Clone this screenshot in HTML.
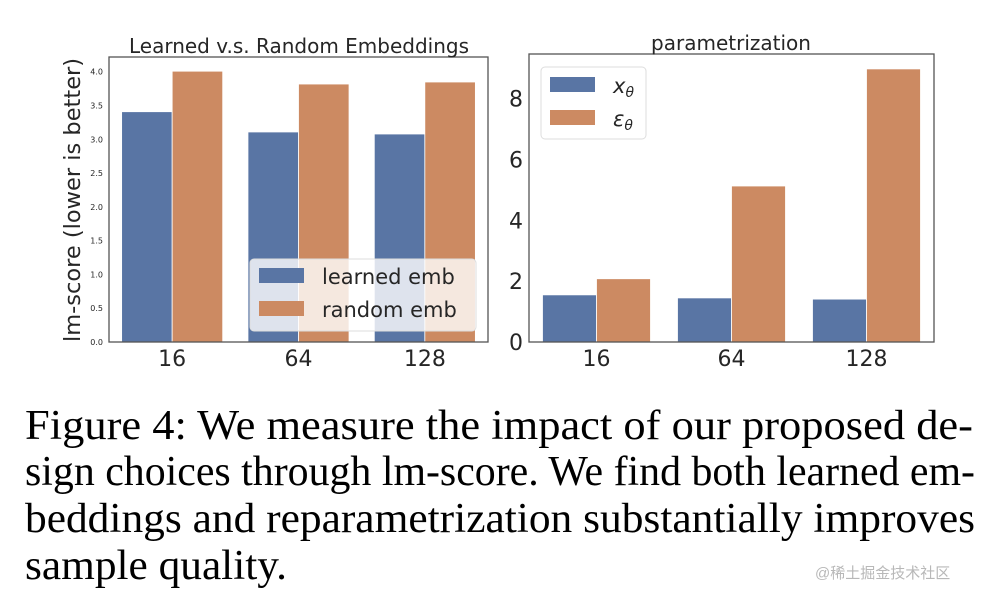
<!DOCTYPE html>
<html><head><meta charset="utf-8"><style>
html,body{margin:0;padding:0;background:#fff;width:998px;height:600px;overflow:hidden}
svg{display:block}
.sans{font-family:"DejaVu Sans","Liberation Sans",sans-serif;fill:#262626}
.serif{font-family:"Liberation Serif",serif;fill:#000}
</style></head><body>
<svg id="fig" width="998" height="600" xmlns="http://www.w3.org/2000/svg">
<g id="left"></g>
<g id="right"></g>
<g>
<text class="serif" x="25" y="439" font-size="42" textLength="948" lengthAdjust="spacingAndGlyphs">Figure 4:  We measure the impact of our proposed de-</text>
<text class="serif" x="25" y="485" font-size="42" textLength="950" lengthAdjust="spacingAndGlyphs">sign choices through lm-score. We find both learned em-</text>
<text class="serif" x="25" y="532" font-size="42" textLength="950" lengthAdjust="spacingAndGlyphs">beddings and reparametrization substantially improves</text>
<text class="serif" x="25" y="579" font-size="42" textLength="262" lengthAdjust="spacingAndGlyphs">sample quality.</text>
</g>
<text x="815" y="578" font-size="15" fill="#b8b8b8" font-family="'Liberation Sans','Noto Sans CJK SC',sans-serif">@稀土掘金技术社区</text>
</svg>
<script>
const categories = ["16","64","128"];
const learnedEmb = [3.41, 3.11, 3.08];
const randomEmb = [4.01, 3.82, 3.85];
const leftTicks = [0.0,0.5,1.0,1.5,2.0,2.5,3.0,3.5,4.0];
const xTheta = [1.55, 1.45, 1.41];
const epsTheta = [2.08, 5.13, 8.98];
const rightTicks = [0,2,4,6,8];

const NS="http://www.w3.org/2000/svg";
const BLUE="#5975a4", ORANGE="#cc8a62";
function mk(parent,tag,attrs,text){const e=document.createElementNS(NS,tag);for(const k in attrs)e.setAttribute(k,attrs[k]);if(text!==undefined)e.textContent=text;parent.appendChild(e);return e;}

function chart(g,cfg){
  const {x0,x1,y0,y1,ymax,series,colors,names,ticks,tickFmt,tickSize,title,titleX}=cfg;
  const yS=v=>y1-(v/ymax)*(y1-y0);
  const band=(x1-x0)/categories.length;
  const bw=band*0.4;
  series.forEach((arr,si)=>{
    arr.forEach((v,i)=>{
      const cx=x0+band*(i+0.5);
      const r=mk(g,'rect',{x:cx-bw+si*bw,y:yS(v),width:bw,height:y1-yS(v),fill:colors[si],stroke:'#fff','stroke-width':0.8});
      
      
    });
  });
  mk(g,'rect',{x:x0,y:y0,width:x1-x0,height:y1-y0,fill:'none',stroke:'#555','stroke-width':1.3});
  ticks.forEach(t=>{
    const tx=mk(g,'text',{class:'sans',x:x0-6,y:yS(t)+tickSize*0.36,'font-size':tickSize,'text-anchor':'end'},tickFmt(t));
    
    
  });
  categories.forEach((c,i)=>{
    const tx=mk(g,'text',{class:'sans',x:x0+band*(i+0.5),y:y1+24,'font-size':22,'text-anchor':'middle'},c);
    
    
  });
  const tt=mk(g,'text',{class:'sans',x:titleX,y:y0-4,'font-size':20,'text-anchor':'middle'},title);
  
  
}

const L=document.getElementById('left');
chart(L,{x0:109,x1:488,y0:57,y1:342,ymax:4.22,series:[learnedEmb,randomEmb],colors:[BLUE,ORANGE],names:['learned','random'],ticks:leftTicks,tickFmt:t=>t.toFixed(1),tickSize:8,title:'Learned v.s. Random Embeddings',titleX:299});
const yl=mk(L,'text',{class:'sans',x:0,y:0,'font-size':22.5,'text-anchor':'middle',transform:'translate(80,200) rotate(-90)'},'lm-score (lower is better)');


const lg=mk(L,'g',{});


mk(lg,'rect',{x:250,y:259,width:226,height:72,rx:4,fill:'#fff','fill-opacity':0.8,stroke:'#ddd'});
mk(lg,'rect',{x:259,y:268,width:45,height:15,fill:BLUE});
mk(lg,'rect',{x:259,y:301,width:45,height:15,fill:ORANGE});
mk(lg,'text',{class:'sans',x:322,y:284,'font-size':21},'learned emb');
mk(lg,'text',{class:'sans',x:322,y:317,'font-size':21},'random emb');

const R=document.getElementById('right');
chart(R,{x0:529,x1:934,y0:54,y1:342,ymax:9.47,series:[xTheta,epsTheta],colors:[BLUE,ORANGE],names:['x-theta','eps-theta'],ticks:rightTicks,tickFmt:t=>String(t),tickSize:22,title:'parametrization',titleX:731});
const rg=mk(R,'g',{});


mk(rg,'rect',{x:541,y:67,width:105,height:72,rx:4,fill:'#fff','fill-opacity':0.8,stroke:'#ddd'});
mk(rg,'rect',{x:550,y:77,width:45,height:15,fill:BLUE});
mk(rg,'rect',{x:550,y:110,width:45,height:15,fill:ORANGE});
const t1=mk(rg,'text',{class:'sans',x:613,y:93,'font-size':21,'font-style':'italic'},'x');
mk(t1,'tspan',{'font-size':14,dy:4},'θ');
const t2=mk(rg,'text',{class:'sans',x:613,y:126,'font-size':21,'font-style':'italic'},'ε');
mk(t2,'tspan',{'font-size':14,dy:4},'θ');
</script>
</body></html>
